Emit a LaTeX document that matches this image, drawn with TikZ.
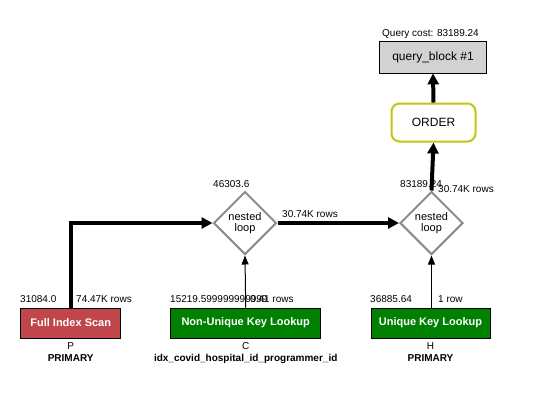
\documentclass[tikz,border=0pt]{standalone}
\usepackage{fontspec}
\setmainfont{Liberation Sans}
\usetikzlibrary{shapes.geometric,arrows.meta}
\definecolor{scanred}{RGB}{192,70,75}
\definecolor{lookgreen}{RGB}{0,128,0}
\definecolor{qbgray}{RGB}{210,210,210}
\definecolor{orderyel}{RGB}{196,196,20}
\definecolor{loopgray}{RGB}{140,140,140}
\tikzset{
  x=1pt, y=-1pt,
  lbl/.style={inner sep=0pt, anchor=base west, font=\fontsize{10}{12}\selectfont},
  sublbl/.style={inner sep=0pt, anchor=base, font=\fontsize{10}{12}\selectfont},
  opbox/.style={rectangle, draw=black, line width=0.8pt, minimum height=30pt, inner sep=0pt,
     text=white, font=\fontsize{11}{13}\selectfont\bfseries},
  loopnode/.style={diamond, draw=loopgray, line width=2pt, minimum width=63pt, minimum height=63pt,
     inner sep=0pt, align=center, font=\fontsize{11}{11}\selectfont},
  thickarr/.style={line width=4pt, -{Triangle[length=11pt,width=11pt]}},
  thinarr/.style={line width=1pt, -{Triangle[length=9pt,width=7pt]}},
}
\begin{document}
\begin{tikzpicture}
\useasboundingbox (0,0) rectangle (535,416);
% top
\node[lbl] (qcost) at (382,36) {Query cost: 83189.24};
\node[rectangle, draw=black, line width=0.8pt, fill=qbgray, minimum width=107pt, minimum height=32pt,
  inner sep=0pt, font=\fontsize{12}{14}\selectfont] (qb) at (433,57) {query\_block \#1};
\node[rectangle, rounded corners=8pt, draw=orderyel, line width=2pt, fill=white, minimum width=84pt,
  minimum height=38pt, inner sep=0pt, font=\fontsize{12}{14}\selectfont] (order) at (433.5,122.5) {ORDER};
% loops
\node[loopnode] (nl1) at (245,223) {nested\\loop};
\node[loopnode] (nl2) at (431.5,223) {nested\\loop};
% ops
\node[opbox, fill=scanred, minimum width=100pt] (fis) at (70.7,323) {Full Index Scan};
\node[opbox, fill=lookgreen, minimum width=150pt] (nukl) at (245.7,323) {Non-Unique Key Lookup};
\node[opbox, fill=lookgreen, minimum width=119pt] (ukl) at (430.5,323) {Unique Key Lookup};
% connectors
\draw[thickarr] (fis.north) |- (nl1.west);
\draw[thinarr] (nukl.north) -- (nl1.south);
\draw[thinarr] (nl2.south |- ukl.north) -- (nl2.south);
\draw[thickarr] (nl1.east) -- (nl2.west);
\draw[thickarr] (nl2.north) -- (order.south);
\draw[thickarr] (order.north) -- (qb.south);
% labels
\node[lbl] (c1) at (213,187) {46303.6};
\node[lbl] (r1) at (282,217) {30.74K rows};
\node[lbl] (c2) at (400,187) {83189.24};
\node[lbl] (r2) at (438,192) {30.74K rows};
\node[lbl] (c3) at (20,302) {31084.0};
\node[lbl] (r3) at (76,302) {74.47K rows};
\node[lbl] (c4) at (170,302) {15219.599999999999};
\node[lbl] (r4) at (250,302) {0.41 rows};
\node[lbl] (c5) at (370,302) {36885.64};
\node[lbl] (r5) at (438,302) {1 row};
\node[sublbl] (t1) at (70.7,349) {P};
\node[sublbl, font=\fontsize{10}{12}\selectfont\bfseries] (k1) at (70.7,361) {PRIMARY};
\node[sublbl] (t2) at (245.7,349) {C};
\node[sublbl, font=\fontsize{10}{12}\selectfont\bfseries] (k2) at (245.7,361) {idx\_covid\_hospital\_id\_programmer\_id};
\node[sublbl] (t3) at (430.5,349) {H};
\node[sublbl, font=\fontsize{10}{12}\selectfont\bfseries] (k3) at (430.5,361) {PRIMARY};
\end{tikzpicture}
\end{document}
